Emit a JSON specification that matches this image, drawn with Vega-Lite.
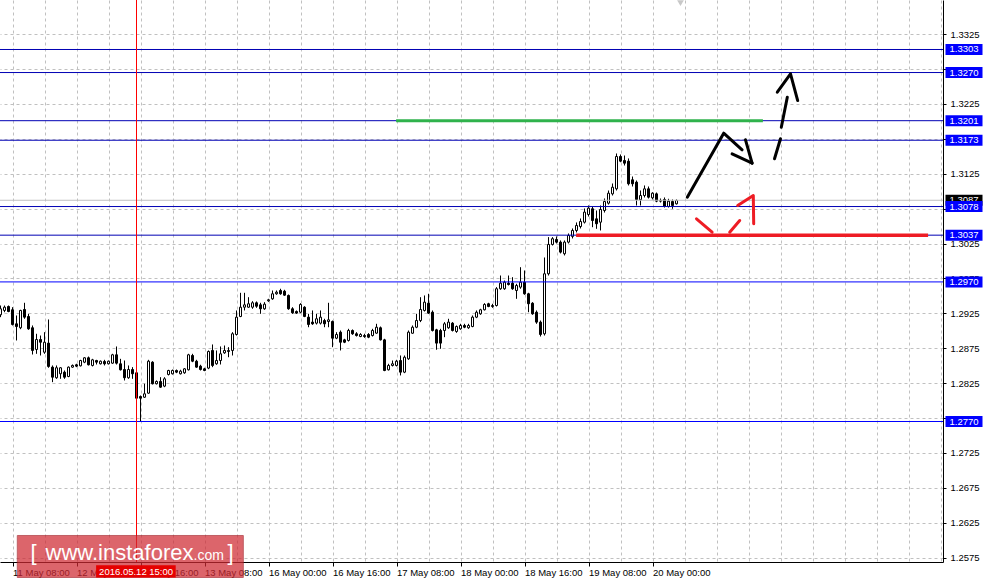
{
  "$schema": "https://vega.github.io/schema/vega-lite/v6.json",
  "width": 943,
  "height": 562,
  "autosize": {"type": "none"},
  "padding": {"left": 0, "top": 0, "right": 41, "bottom": 24},
  "background": "white",
  "config": {"view": {"stroke": null}, "font": "Liberation Sans"},
  "datasets": {
    "candles": [
      {"i":-3,"o":1.29229,"h":1.29362,"l":1.29195,"c":1.29315},
      {"i":-2,"o":1.29291,"h":1.29362,"l":1.29266,"c":1.29338},
      {"i":-1,"o":1.29348,"h":1.29362,"l":1.29266,"c":1.29276},
      {"i":0,"o":1.29301,"h":1.29338,"l":1.29076,"c":1.29090},
      {"i":1,"o":1.29100,"h":1.29219,"l":1.28861,"c":1.29061},
      {"i":2,"o":1.29043,"h":1.29301,"l":1.29023,"c":1.29291},
      {"i":3,"o":1.29305,"h":1.29401,"l":1.29172,"c":1.29195},
      {"i":4,"o":1.29205,"h":1.29243,"l":1.29014,"c":1.29028},
      {"i":5,"o":1.29043,"h":1.29076,"l":1.28660,"c":1.28718},
      {"i":6,"o":1.28732,"h":1.28957,"l":1.28670,"c":1.28875},
      {"i":7,"o":1.28875,"h":1.28932,"l":1.28646,"c":1.28836},
      {"i":8,"o":1.28693,"h":1.28980,"l":1.28670,"c":1.28836},
      {"i":9,"o":1.28823,"h":1.29162,"l":1.28470,"c":1.28489},
      {"i":10,"o":1.28479,"h":1.28503,"l":1.28264,"c":1.28335},
      {"i":11,"o":1.28327,"h":1.28503,"l":1.28312,"c":1.28470},
      {"i":12,"o":1.28384,"h":1.28479,"l":1.28312,"c":1.28470},
      {"i":13,"o":1.28407,"h":1.28431,"l":1.28312,"c":1.28335},
      {"i":14,"o":1.28345,"h":1.28489,"l":1.28335,"c":1.28479},
      {"i":15,"o":1.28479,"h":1.28517,"l":1.28470,"c":1.28503},
      {"i":16,"o":1.28513,"h":1.28527,"l":1.28479,"c":1.28493},
      {"i":17,"o":1.28498,"h":1.28584,"l":1.28489,"c":1.28574},
      {"i":18,"o":1.28550,"h":1.28621,"l":1.28536,"c":1.28613},
      {"i":19,"o":1.28613,"h":1.28631,"l":1.28503,"c":1.28513},
      {"i":20,"o":1.28503,"h":1.28598,"l":1.28489,"c":1.28584},
      {"i":21,"o":1.28574,"h":1.28584,"l":1.28517,"c":1.28550},
      {"i":22,"o":1.28527,"h":1.28574,"l":1.28517,"c":1.28564},
      {"i":23,"o":1.28560,"h":1.28584,"l":1.28503,"c":1.28527},
      {"i":24,"o":1.28527,"h":1.28574,"l":1.28517,"c":1.28564},
      {"i":25,"o":1.28536,"h":1.28670,"l":1.28527,"c":1.28656},
      {"i":26,"o":1.28656,"h":1.28775,"l":1.28517,"c":1.28536},
      {"i":27,"o":1.28527,"h":1.28598,"l":1.28431,"c":1.28441},
      {"i":28,"o":1.28445,"h":1.28574,"l":1.28288,"c":1.28327},
      {"i":29,"o":1.28327,"h":1.28503,"l":1.28312,"c":1.28445},
      {"i":30,"o":1.28445,"h":1.28479,"l":1.28312,"c":1.28384},
      {"i":31,"o":1.28398,"h":1.28407,"l":1.28025,"c":1.28034},
      {"i":32,"o":1.28058,"h":1.28073,"l":1.27695,"c":1.28034},
      {"i":33,"o":1.28048,"h":1.28241,"l":1.28039,"c":1.28097},
      {"i":34,"o":1.28106,"h":1.28584,"l":1.28097,"c":1.28564},
      {"i":35,"o":1.28550,"h":1.28564,"l":1.28231,"c":1.28241},
      {"i":36,"o":1.28241,"h":1.28288,"l":1.28231,"c":1.28274},
      {"i":37,"o":1.28274,"h":1.28335,"l":1.28183,"c":1.28192},
      {"i":38,"o":1.28207,"h":1.28335,"l":1.28192,"c":1.28312},
      {"i":39,"o":1.28374,"h":1.28441,"l":1.28360,"c":1.28431},
      {"i":40,"o":1.28384,"h":1.28445,"l":1.28374,"c":1.28431},
      {"i":41,"o":1.28431,"h":1.28445,"l":1.28393,"c":1.28407},
      {"i":42,"o":1.28384,"h":1.28441,"l":1.28374,"c":1.28421},
      {"i":43,"o":1.28398,"h":1.28465,"l":1.28384,"c":1.28455},
      {"i":44,"o":1.28441,"h":1.28670,"l":1.28431,"c":1.28656},
      {"i":45,"o":1.28646,"h":1.28670,"l":1.28550,"c":1.28564},
      {"i":46,"o":1.28564,"h":1.28584,"l":1.28470,"c":1.28479},
      {"i":47,"o":1.28493,"h":1.28513,"l":1.28431,"c":1.28445},
      {"i":48,"o":1.28455,"h":1.28470,"l":1.28421,"c":1.28431},
      {"i":49,"o":1.28465,"h":1.28718,"l":1.28450,"c":1.28703},
      {"i":50,"o":1.28718,"h":1.28804,"l":1.28479,"c":1.28503},
      {"i":51,"o":1.28527,"h":1.28718,"l":1.28513,"c":1.28574},
      {"i":52,"o":1.28574,"h":1.28775,"l":1.28517,"c":1.28670},
      {"i":53,"o":1.28684,"h":1.28789,"l":1.28670,"c":1.28718},
      {"i":54,"o":1.28703,"h":1.28765,"l":1.28621,"c":1.28718},
      {"i":55,"o":1.28718,"h":1.28980,"l":1.28646,"c":1.28957},
      {"i":56,"o":1.28947,"h":1.29291,"l":1.28932,"c":1.29195},
      {"i":57,"o":1.29205,"h":1.29544,"l":1.29195,"c":1.29338},
      {"i":58,"o":1.29338,"h":1.29544,"l":1.29291,"c":1.29372},
      {"i":59,"o":1.29338,"h":1.29481,"l":1.29329,"c":1.29387},
      {"i":60,"o":1.29338,"h":1.29424,"l":1.29315,"c":1.29401},
      {"i":61,"o":1.29401,"h":1.29420,"l":1.29329,"c":1.29352},
      {"i":62,"o":1.29372,"h":1.29401,"l":1.29243,"c":1.29315},
      {"i":63,"o":1.29315,"h":1.29410,"l":1.29301,"c":1.29381},
      {"i":64,"o":1.29430,"h":1.29458,"l":1.29415,"c":1.29444},
      {"i":65,"o":1.29458,"h":1.29577,"l":1.29444,"c":1.29530},
      {"i":66,"o":1.29530,"h":1.29577,"l":1.29516,"c":1.29553},
      {"i":67,"o":1.29577,"h":1.29602,"l":1.29516,"c":1.29530},
      {"i":68,"o":1.29567,"h":1.29587,"l":1.29501,"c":1.29510},
      {"i":69,"o":1.29506,"h":1.29520,"l":1.29301,"c":1.29315},
      {"i":70,"o":1.29315,"h":1.29338,"l":1.29243,"c":1.29258},
      {"i":71,"o":1.29276,"h":1.29291,"l":1.29243,"c":1.29253},
      {"i":72,"o":1.29266,"h":1.29395,"l":1.29253,"c":1.29377},
      {"i":73,"o":1.29338,"h":1.29352,"l":1.29195,"c":1.29205},
      {"i":74,"o":1.29195,"h":1.29243,"l":1.29051,"c":1.29090},
      {"i":75,"o":1.29124,"h":1.29291,"l":1.29085,"c":1.29100},
      {"i":76,"o":1.29109,"h":1.29243,"l":1.29090,"c":1.29172},
      {"i":77,"o":1.29109,"h":1.29291,"l":1.29090,"c":1.29195},
      {"i":78,"o":1.29147,"h":1.29172,"l":1.29051,"c":1.29100},
      {"i":79,"o":1.29133,"h":1.29401,"l":1.29051,"c":1.29157},
      {"i":80,"o":1.29133,"h":1.29147,"l":1.28765,"c":1.28894},
      {"i":81,"o":1.28894,"h":1.28980,"l":1.28880,"c":1.28947},
      {"i":82,"o":1.28980,"h":1.29004,"l":1.28718,"c":1.28836},
      {"i":83,"o":1.28870,"h":1.28885,"l":1.28823,"c":1.28836},
      {"i":84,"o":1.28861,"h":1.29028,"l":1.28846,"c":1.29004},
      {"i":85,"o":1.29004,"h":1.29019,"l":1.28942,"c":1.28957},
      {"i":86,"o":1.28957,"h":1.28980,"l":1.28918,"c":1.28932},
      {"i":87,"o":1.28918,"h":1.28966,"l":1.28908,"c":1.28947},
      {"i":88,"o":1.28932,"h":1.28957,"l":1.28899,"c":1.28918},
      {"i":89,"o":1.28947,"h":1.28966,"l":1.28894,"c":1.28908},
      {"i":90,"o":1.28932,"h":1.29028,"l":1.28918,"c":1.29004},
      {"i":91,"o":1.28966,"h":1.29100,"l":1.28957,"c":1.29051},
      {"i":92,"o":1.29043,"h":1.29061,"l":1.28861,"c":1.28870},
      {"i":93,"o":1.28870,"h":1.28885,"l":1.28421,"c":1.28431},
      {"i":94,"o":1.28441,"h":1.28527,"l":1.28431,"c":1.28503},
      {"i":95,"o":1.28503,"h":1.28574,"l":1.28489,"c":1.28527},
      {"i":96,"o":1.28503,"h":1.28584,"l":1.28489,"c":1.28564},
      {"i":97,"o":1.28574,"h":1.28646,"l":1.28360,"c":1.28407},
      {"i":98,"o":1.28407,"h":1.28646,"l":1.28393,"c":1.28621},
      {"i":99,"o":1.28598,"h":1.29004,"l":1.28584,"c":1.28980},
      {"i":100,"o":1.28965,"h":1.29076,"l":1.28957,"c":1.29051},
      {"i":101,"o":1.29051,"h":1.29243,"l":1.29037,"c":1.29147},
      {"i":102,"o":1.29147,"h":1.29481,"l":1.29124,"c":1.29305},
      {"i":103,"o":1.29291,"h":1.29506,"l":1.29276,"c":1.29410},
      {"i":104,"o":1.29395,"h":1.29530,"l":1.29243,"c":1.29253},
      {"i":105,"o":1.29266,"h":1.29291,"l":1.28990,"c":1.29004},
      {"i":106,"o":1.29014,"h":1.29028,"l":1.28728,"c":1.28823},
      {"i":107,"o":1.29004,"h":1.29028,"l":1.28742,"c":1.28823},
      {"i":108,"o":1.29004,"h":1.29124,"l":1.28908,"c":1.29100},
      {"i":109,"o":1.29043,"h":1.29172,"l":1.29028,"c":1.29124},
      {"i":110,"o":1.29109,"h":1.29124,"l":1.28990,"c":1.29004},
      {"i":111,"o":1.28990,"h":1.29076,"l":1.28971,"c":1.29061},
      {"i":112,"o":1.29028,"h":1.29100,"l":1.29014,"c":1.29076},
      {"i":113,"o":1.29076,"h":1.29100,"l":1.29037,"c":1.29051},
      {"i":114,"o":1.29043,"h":1.29100,"l":1.29028,"c":1.29076},
      {"i":115,"o":1.29061,"h":1.29219,"l":1.29051,"c":1.29195},
      {"i":116,"o":1.29195,"h":1.29291,"l":1.29181,"c":1.29266},
      {"i":117,"o":1.29243,"h":1.29315,"l":1.29229,"c":1.29301},
      {"i":118,"o":1.29301,"h":1.29395,"l":1.29291,"c":1.29377},
      {"i":119,"o":1.29387,"h":1.29401,"l":1.29338,"c":1.29348},
      {"i":120,"o":1.29348,"h":1.29387,"l":1.29329,"c":1.29362},
      {"i":121,"o":1.29362,"h":1.29625,"l":1.29348,"c":1.29602},
      {"i":122,"o":1.29602,"h":1.29792,"l":1.29587,"c":1.29682},
      {"i":123,"o":1.29602,"h":1.29720,"l":1.29587,"c":1.29696},
      {"i":124,"o":1.29682,"h":1.29792,"l":1.29649,"c":1.29663},
      {"i":125,"o":1.29682,"h":1.29768,"l":1.29587,"c":1.29602},
      {"i":126,"o":1.29577,"h":1.29673,"l":1.29458,"c":1.29649},
      {"i":127,"o":1.29625,"h":1.29911,"l":1.29602,"c":1.29696},
      {"i":128,"o":1.29696,"h":1.29864,"l":1.29516,"c":1.29530},
      {"i":129,"o":1.29530,"h":1.29544,"l":1.29266,"c":1.29387},
      {"i":130,"o":1.29395,"h":1.29410,"l":1.29229,"c":1.29243},
      {"i":131,"o":1.29266,"h":1.29291,"l":1.29100,"c":1.29124},
      {"i":132,"o":1.29124,"h":1.29147,"l":1.28918,"c":1.28947},
      {"i":133,"o":1.28957,"h":1.30050,"l":1.28932,"c":1.29817},
      {"i":134,"o":1.29817,"h":1.30342,"l":1.29792,"c":1.30237},
      {"i":135,"o":1.30237,"h":1.30342,"l":1.30222,"c":1.30319},
      {"i":136,"o":1.30309,"h":1.30352,"l":1.30251,"c":1.30270},
      {"i":137,"o":1.30270,"h":1.30294,"l":1.30108,"c":1.30127},
      {"i":138,"o":1.30104,"h":1.30294,"l":1.30079,"c":1.30270},
      {"i":139,"o":1.30270,"h":1.30394,"l":1.30251,"c":1.30366},
      {"i":140,"o":1.30352,"h":1.30466,"l":1.30323,"c":1.30437},
      {"i":141,"o":1.30437,"h":1.30552,"l":1.30409,"c":1.30509},
      {"i":142,"o":1.30494,"h":1.30609,"l":1.30466,"c":1.30566},
      {"i":143,"o":1.30556,"h":1.30752,"l":1.30537,"c":1.30700},
      {"i":144,"o":1.30666,"h":1.30795,"l":1.30637,"c":1.30757},
      {"i":145,"o":1.30748,"h":1.30781,"l":1.30484,"c":1.30580},
      {"i":146,"o":1.30604,"h":1.30723,"l":1.30461,"c":1.30533},
      {"i":147,"o":1.30556,"h":1.30795,"l":1.30437,"c":1.30738},
      {"i":148,"o":1.30723,"h":1.30895,"l":1.30694,"c":1.30852},
      {"i":149,"o":1.30828,"h":1.31010,"l":1.30809,"c":1.30971},
      {"i":150,"o":1.30962,"h":1.31110,"l":1.30938,"c":1.31057},
      {"i":151,"o":1.31034,"h":1.31540,"l":1.31010,"c":1.31497},
      {"i":152,"o":1.31497,"h":1.31526,"l":1.31415,"c":1.31430},
      {"i":153,"o":1.31440,"h":1.31511,"l":1.31368,"c":1.31401},
      {"i":154,"o":1.31430,"h":1.31469,"l":1.31082,"c":1.31106},
      {"i":155,"o":1.31163,"h":1.31210,"l":1.31067,"c":1.31106},
      {"i":156,"o":1.31129,"h":1.31153,"l":1.30795,"c":1.30881},
      {"i":157,"o":1.30877,"h":1.31010,"l":1.30795,"c":1.30938},
      {"i":158,"o":1.30938,"h":1.31082,"l":1.30910,"c":1.31034},
      {"i":159,"o":1.31034,"h":1.31067,"l":1.30895,"c":1.30914},
      {"i":160,"o":1.30905,"h":1.30985,"l":1.30881,"c":1.30971},
      {"i":161,"o":1.30962,"h":1.30981,"l":1.30842,"c":1.30857},
      {"i":162,"o":1.30857,"h":1.30895,"l":1.30838,"c":1.30867},
      {"i":163,"o":1.30881,"h":1.30910,"l":1.30766,"c":1.30781},
      {"i":164,"o":1.30781,"h":1.30891,"l":1.30766,"c":1.30857},
      {"i":165,"o":1.30852,"h":1.30881,"l":1.30748,"c":1.30795},
      {"i":166,"o":1.30819,"h":1.30881,"l":1.30809,"c":1.30867}
    ],
    "levels": [
      {"p":1.3303},{"p":1.3270},{"p":1.3201},{"p":1.3173},
      {"p":1.3078},{"p":1.3037},{"p":1.2970},{"p":1.2770}
    ],
    "arrows": [
      {"seg":"a1","dir":"up","i":168.7,"p":1.30914},
      {"seg":"a1","dir":"up","i":177.8,"p":1.31831},
      {"seg":"a1","dir":"up","i":182.4,"p":1.31593},
      {"seg":"a2","dir":"up","i":179.9,"p":1.31536},
      {"seg":"a2","dir":"up","i":184.9,"p":1.31401},
      {"seg":"a3","dir":"up","i":183.25,"p":1.31736},
      {"seg":"a3","dir":"up","i":184.9,"p":1.31401},
      {"seg":"b1","dir":"up","i":190.5,"p":1.31464},
      {"seg":"b1","dir":"up","i":192.0,"p":1.31751},
      {"seg":"b2","dir":"up","i":192.2,"p":1.31917},
      {"seg":"b2","dir":"up","i":193.7,"p":1.32347},
      {"seg":"b3","dir":"up","i":191.2,"p":1.32418},
      {"seg":"b3","dir":"up","i":194.5,"p":1.32682},
      {"seg":"b3","dir":"up","i":196.3,"p":1.32299},
      {"seg":"c1","dir":"down","i":171.0,"p":1.30604},
      {"seg":"c1","dir":"down","i":174.9,"p":1.30412},
      {"seg":"c2","dir":"down","i":179.3,"p":1.30412},
      {"seg":"c2","dir":"down","i":181.8,"p":1.30580},
      {"seg":"c3","dir":"down","i":181.3,"p":1.30795},
      {"seg":"c3","dir":"down","i":185.2,"p":1.30938},
      {"seg":"c3","dir":"down","i":185.3,"p":1.30533}
    ]
  },
  "layer": [
    {
      "data": {"name": "candles"},
      "mark": {"type": "rule", "color": "black", "strokeWidth": 1},
      "encoding": {
        "x": {
          "field": "i", "type": "quantitative",
          "scale": {"domain": [-3.125, 232.625], "nice": false, "zero": false, "padding": 0},
          "axis": {
            "orient": "bottom", "title": null, "tickCount": 100,
            "values": [0,8,16,24,32,40,48,56,64,72,80,88,96,104,112,120,128,136,144,152,160,168,176,184,192,200,208,216,224,232],
            "grid": true, "gridColor": "#c0c0c0", "gridDash": [3, 3], "gridWidth": 1,
            "domain": true, "domainColor": "black", "domainWidth": 1,
            "ticks": true, "tickSize": 4, "tickColor": "black",
            "tickOpacity": {"condition": {"test": "datum.value % 16 == 0 && datum.value <= 160", "value": 1}, "value": 0},
            "labelExpr": "datum.value == 0 ? '11 May 08:00' : datum.value == 16 ? '12 May 00:00' : datum.value == 32 ? '12 May 16:00' : datum.value == 48 ? '13 May 08:00' : datum.value == 64 ? '16 May 00:00' : datum.value == 80 ? '16 May 16:00' : datum.value == 96 ? '17 May 08:00' : datum.value == 112 ? '18 May 00:00' : datum.value == 128 ? '18 May 16:00' : datum.value == 144 ? '19 May 08:00' : datum.value == 160 ? '20 May 00:00' : ''",
            "labelAlign": "left", "labelBaseline": "top", "labelPadding": 1,
            "labelFont": "Liberation Sans", "labelFontSize": 9.5, "labelColor": "black",
            "labelOverlap": false, "labelFlush": false, "labelBound": false
          }
        },
        "y": {
          "field": "l", "type": "quantitative",
          "scale": {"domain": [1.256872, 1.337392], "nice": false, "zero": false, "padding": 0},
          "axis": {
            "orient": "right", "title": null, "tickCount": 100,
            "values": [1.2575,1.2625,1.2675,1.2725,1.2775,1.2825,1.2875,1.2925,1.2975,1.3025,1.3075,1.3125,1.3175,1.3225,1.3275,1.3325],
            "format": ".4f",
            "grid": true, "gridColor": "#c0c0c0", "gridDash": [3, 3], "gridWidth": 1,
            "domain": true, "domainColor": "black", "domainWidth": 1,
            "ticks": true, "tickSize": 3, "tickColor": "black",
            "labelAlign": "left", "labelBaseline": "middle", "labelPadding": 4,
            "labelFont": "Liberation Sans", "labelFontSize": 9.5, "labelColor": "black",
            "labelOverlap": false, "labelFlush": false, "labelBound": false
          }
        },
        "y2": {"field": "h"}
      }
    },
    {
      "data": {"name": "candles"},
      "mark": {"type": "bar", "size": 2, "stroke": "black", "strokeWidth": 1},
      "encoding": {
        "x": {"field": "i", "type": "quantitative"},
        "y": {"field": "o", "type": "quantitative"},
        "y2": {"field": "c"},
        "fill": {"condition": {"test": "datum.c < datum.o", "value": "black"}, "value": "white"}
      }
    },
    {
      "data": {"values": [{"p": 1.3087}]},
      "mark": {"type": "rule", "color": "#c0c0c0", "strokeWidth": 1},
      "encoding": {"y": {"field": "p", "type": "quantitative"}}
    },
    {
      "data": {"name": "levels"},
      "mark": {"type": "rule", "strokeWidth": 1},
      "encoding": {
        "y": {"field": "p", "type": "quantitative"},
        "color": {"condition": {"test": "datum.p < 1.30", "value": "#0000ff"}, "value": "#0000b4"}
      }
    },
    {
      "data": {"values": [{"t": "2016.05.12 15:00"}]},
      "mark": {"type": "rule", "color": "#ff0000", "strokeWidth": 1},
      "encoding": {"x": {"datum": 31}}
    },
    {
      "data": {"values": [{"p": 1.3201}]},
      "mark": {"type": "rule", "color": "#2fb24c", "strokeWidth": 3},
      "encoding": {"x": {"datum": 95.9}, "x2": {"datum": 187.6}, "y": {"field": "p", "type": "quantitative"}}
    },
    {
      "data": {"values": [{"p": 1.3037}]},
      "mark": {"type": "rule", "color": "#ee1c24", "strokeWidth": 3.5},
      "encoding": {"x": {"datum": 140.9}, "x2": {"datum": 228.9}, "y": {"field": "p", "type": "quantitative"}}
    },
    {
      "data": {"name": "arrows"},
      "mark": {"type": "line", "strokeWidth": 3, "strokeCap": "round", "strokeJoin": "round"},
      "encoding": {
        "x": {"field": "i", "type": "quantitative"},
        "y": {"field": "p", "type": "quantitative"},
        "detail": {"field": "seg"},
        "color": {"field": "dir", "type": "nominal", "scale": {"domain": ["up", "down"], "range": ["#000000", "#ee1c24"]}, "legend": null}
      }
    },
    {
      "data": {"values": [{"p": 1.3087}]},
      "mark": {"type": "bar", "size": 11, "color": "#000000"},
      "encoding": {"x": {"datum": 233.25}, "x2": {"datum": 242.5}, "y": {"field": "p", "type": "quantitative"}}
    },
    {
      "data": {"values": [{"p": 1.3087}]},
      "mark": {"type": "text", "color": "white", "font": "Liberation Sans", "fontSize": 9.5, "align": "center", "baseline": "middle"},
      "encoding": {"x": {"datum": 237.9}, "y": {"field": "p", "type": "quantitative"}, "text": {"field": "p", "type": "quantitative", "format": ".4f"}}
    },
    {
      "data": {"name": "levels"},
      "mark": {"type": "bar", "size": 11, "color": "#0000ff"},
      "encoding": {"x": {"datum": 233.25}, "x2": {"datum": 242.5}, "y": {"field": "p", "type": "quantitative"}}
    },
    {
      "data": {"name": "levels"},
      "mark": {"type": "text", "color": "white", "font": "Liberation Sans", "fontSize": 9.5, "align": "center", "baseline": "middle"},
      "encoding": {"x": {"datum": 237.9}, "y": {"field": "p", "type": "quantitative"}, "text": {"field": "p", "type": "quantitative", "format": ".4f"}}
    },
    {
      "data": {"values": [{"t": "www.instaforex.com"}]},
      "mark": {"type": "rect", "color": "#cf2a33", "opacity": 0.72, "stroke": "#a8222a", "strokeWidth": 1},
      "encoding": {"x": {"datum": 1.2}, "x2": {"datum": 57.7}, "y": {"datum": 1.26067}, "y2": {"datum": 1.25465}}
    },
    {
      "data": {"values": [{"t": "[ "}]},
      "mark": {"type": "text", "color": "white", "font": "Liberation Sans", "fontSize": 22, "align": "left", "baseline": "alphabetic"},
      "encoding": {"x": {"datum": 4.5}, "y": {"datum": 1.25709}, "text": {"field": "t"}}
    },
    {
      "data": {"values": [{"t": "www.instaforex"}]},
      "mark": {"type": "text", "color": "white", "font": "Liberation Sans", "fontSize": 22, "align": "left", "baseline": "alphabetic"},
      "encoding": {"x": {"datum": 8.25}, "y": {"datum": 1.25709}, "text": {"field": "t"}}
    },
    {
      "data": {"values": [{"t": ".com"}]},
      "mark": {"type": "text", "color": "white", "font": "Liberation Sans", "fontSize": 14, "align": "left", "baseline": "alphabetic"},
      "encoding": {"x": {"datum": 45.25}, "y": {"datum": 1.25709}, "text": {"field": "t"}}
    },
    {
      "data": {"values": [{"t": "]"}]},
      "mark": {"type": "text", "color": "white", "font": "Liberation Sans", "fontSize": 22, "align": "left", "baseline": "alphabetic"},
      "encoding": {"x": {"datum": 53.75}, "y": {"datum": 1.25709}, "text": {"field": "t"}}
    },
    {
      "data": {"values": [{"t": "2016.05.12 15:00"}]},
      "mark": {"type": "rect", "color": "#e60000"},
      "encoding": {"x": {"datum": 20.9}, "x2": {"datum": 40.8}, "y": {"datum": 1.25641}, "y2": {"datum": 1.25465}}
    },
    {
      "data": {"values": [{"t": "2016.05.12 15:00"}]},
      "mark": {"type": "text", "color": "white", "font": "Liberation Sans", "fontSize": 9.5, "align": "center", "baseline": "middle"},
      "encoding": {"x": {"datum": 30.9}, "y": {"datum": 1.25548}, "text": {"field": "t"}}
    },
    {
      "data": {"values": [{"t": "shift"}]},
      "mark": {"type": "point", "shape": "triangle-down", "size": 45, "filled": true, "color": "#c8c8c8", "opacity": 1},
      "encoding": {"x": {"datum": 167}, "y": {"datum": 1.33695}}
    }
  ]
}
